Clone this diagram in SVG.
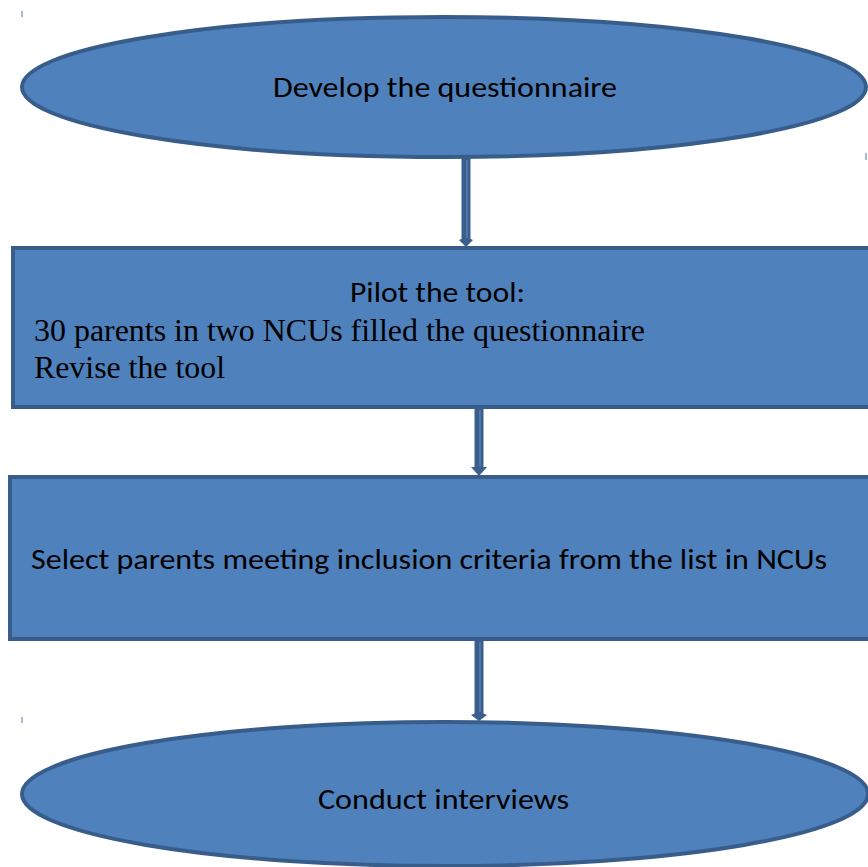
<svg xmlns="http://www.w3.org/2000/svg" width="868" height="867" viewBox="0 0 868 867">
<style>
.shape{fill:#4f81bd;stroke:#385d8a;stroke-width:4}
.sans{font-family:Carlito,"Liberation Sans","Noto Sans",sans-serif;font-size:28px;fill:#000}
.serif{font-family:"Liberation Serif","Times New Roman",serif;font-size:31px;fill:#000}
.shaft{stroke:#3b5e8c;stroke-width:9;fill:none}
.inner{stroke:#5b87bd;stroke-width:1.2;fill:none}
.head{fill:#3b5e8c}
.tick{stroke:#6a8cb8;stroke-width:1.2}
</style>
<rect width="868" height="867" fill="#fff"/>
<g id="connectors">
  <line class="shaft" x1="466" y1="157" x2="466" y2="240"/>
  <line class="inner" x1="467" y1="160" x2="467" y2="238"/>
  <path class="head" d="M459 240 Q466 236 473 240 L466 247 Z"/>
  <line class="shaft" x1="479" y1="408" x2="479" y2="468"/>
  <line class="inner" x1="480" y1="410" x2="480" y2="466"/>
  <path class="head" d="M471 467 L487 467 L479 476 Z"/>
  <line class="shaft" x1="479" y1="640" x2="479" y2="714"/>
  <line class="inner" x1="480" y1="642" x2="480" y2="712"/>
  <path class="head" d="M471 715 Q479 710 487 715 L479 721 Z"/>
</g>
<g id="ticks">
  <line class="tick" x1="22" y1="11" x2="22" y2="17"/>
  <line class="tick" x1="866" y1="153" x2="866" y2="160"/>
  <line class="tick" x1="22" y1="717" x2="22" y2="723"/>
</g>
<g id="node1">
  <ellipse class="shape" cx="444" cy="87" rx="422" ry="70"/>
  <text class="sans" x="273" y="97" textLength="344" lengthAdjust="spacingAndGlyphs">Develop the questionnaire</text>
</g>
<g id="node2">
  <rect class="shape" x="13" y="248" width="862" height="159"/>
  <text class="sans" x="350" y="302" textLength="175" lengthAdjust="spacingAndGlyphs">Pilot the tool:</text>
  <text class="serif" x="34" y="341" textLength="611" lengthAdjust="spacingAndGlyphs">30 parents in two NCUs filled the questionnaire</text>
  <text class="serif" x="34" y="378" textLength="191" lengthAdjust="spacingAndGlyphs">Revise the tool</text>
</g>
<g id="node3">
  <rect class="shape" x="10" y="477" width="865" height="162"/>
  <text class="sans" x="31" y="569" textLength="796" lengthAdjust="spacingAndGlyphs">Select parents meeting inclusion criteria from the list in NCUs</text>
</g>
<g id="node4">
  <ellipse class="shape" cx="445" cy="794" rx="423" ry="72"/>
  <text class="sans" x="318" y="809" textLength="251" lengthAdjust="spacingAndGlyphs">Conduct interviews</text>
</g>
</svg>
